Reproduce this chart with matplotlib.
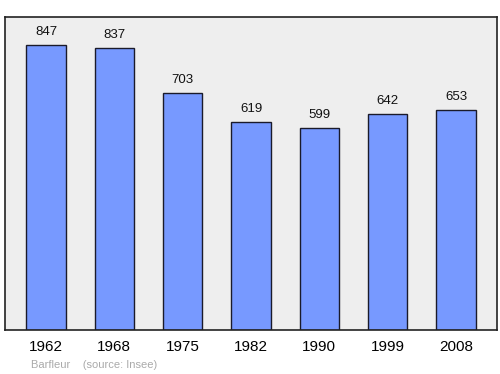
import matplotlib
matplotlib.use("Agg")
import matplotlib.pyplot as plt

plt.rcParams["font.family"] = ["Liberation Sans", "DejaVu Sans"]

annees = ["1962", "1968", "1975", "1982", "1990", "1999", "2008"]
population = [847, 837, 703, 619, 599, 642, 653]

fig = plt.figure(figsize=(5, 3.74), dpi=100)
ax = fig.add_axes([0.01, 0.1176, 0.984, 0.837])
ax.set_facecolor("#eeeeee")

x = range(len(annees))
ax.bar(x, population, width=0.58, color="#7799ff", edgecolor="#1a1a2a", linewidth=1)
for xi, v in zip(x, population):
    ax.text(xi, v + 21, str(v), ha="center", va="bottom", fontsize=9.5, color="#111111")

ax.set_xlim(-0.6, 6.6)
ax.set_ylim(0, 930)
ax.set_xticks(list(x))
ax.set_xticklabels(annees, fontsize=11)
ax.tick_params(axis="x", length=0, pad=7.5)
ax.set_yticks([])
for s in ax.spines.values():
    s.set_linewidth(1.2)
    s.set_color("#222222")

fig.text(0.062, 0.016, "Barfleur    (source: Insee)", fontsize=8, color="#aaaaaa")

fig.savefig("out.png", dpi=100)
